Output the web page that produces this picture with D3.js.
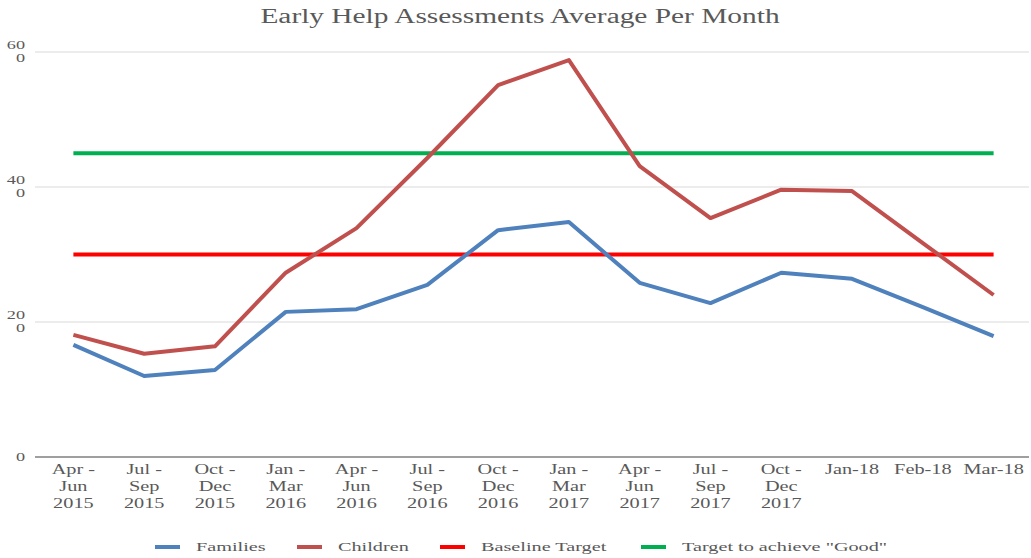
<!DOCTYPE html>
<html><head><meta charset="utf-8">
<script src="https://cdn.jsdelivr.net/npm/d3@7"></script>
<style>body{margin:0;background:#fff}svg{display:block}</style>
</head><body>
<svg id="c" width="1031" height="558"></svg>
<script>
const categories = [
  ["Apr -","Jun","2015"],["Jul -","Sep","2015"],["Oct -","Dec","2015"],["Jan -","Mar","2016"],
  ["Apr -","Jun","2016"],["Jul -","Sep","2016"],["Oct -","Dec","2016"],["Jan -","Mar","2017"],
  ["Apr -","Jun","2017"],["Jul -","Sep","2017"],["Oct -","Dec","2017"],["Jan-18"],["Feb-18"],["Mar-18"]
];
const families = [166,120,129,215,219,255,336,348,258,228,273,264,222,179];
const children = [181,153,164,273,339,443,551,588,431,354,396,394,317,240];
const baselineTarget = [300,300,300,300,300,300,300,300,300,300,300,300,300,300];
const goodTarget = [450,450,450,450,450,450,450,450,450,450,450,450,450,450];
const yTicks = [0,200,400,600];
const title = "Early Help Assessments Average Per Month";
const seriesNames = ["Families","Children","Baseline Target","Target to achieve \"Good\""];
const seriesColors = ["#4f81bd","#c0504d","#ff0000","#00b050"];

const svg = d3.select("#c");
const SX = 1.4;
const font = "'Liberation Serif','Times New Roman',serif";
const txtCol = "#595959";
const keys = categories.map((c,i)=>i);
const x = d3.scalePoint().domain(keys).range([38,1029]).padding(0.5);
const y = d3.scaleLinear().domain([0,600]).range([457,52]);

// grid
svg.append("g").selectAll("line").data(yTicks.filter(t=>t>0)).join("line")
  .attr("x1",35).attr("x2",1029).attr("y1",d=>y(d)).attr("y2",d=>y(d))
  .attr("stroke","#d9d9d9").attr("stroke-width",1);
svg.append("line").attr("x1",35).attr("x2",1029).attr("y1",y(0)).attr("y2",y(0))
  .attr("stroke","#7f7f7f").attr("stroke-width",1.3);

// y labels (wrapped)
const yl = svg.append("g");
yTicks.forEach(t=>{
  const s = String(t);
  const lines = s.length>1 ? [s.slice(0,-1), s.slice(-1)] : [s];
  lines.forEach((ln,k)=>{
    const yy = lines.length>1 ? y(t)-3 + (k*13) : y(t)+4;
    yl.append("text").attr("transform",`translate(25,${yy}) scale(${SX},1)`)
      .attr("text-anchor","end").attr("font-family",font).attr("font-size",13)
      .attr("fill",txtCol).text(ln);
  });
});

// x labels
const xl = svg.append("g");
categories.forEach((c,i)=>{
  c.forEach((ln,k)=>{
    xl.append("text").attr("transform",`translate(${x(i)},${474+k*17}) scale(1.45,1)`)
      .attr("text-anchor","middle").attr("font-family",font).attr("font-size",14)
      .attr("fill",txtCol).text(ln);
  });
});

// lines
const line = d3.line().x((d,i)=>x(i)).y(d=>y(d));
const allSeries = [families, children, baselineTarget, goodTarget];
[2,3,1,0].forEach(si=>{
  svg.append("path").datum(allSeries[si]).attr("d",line)
    .attr("fill","none").attr("stroke",seriesColors[si]).attr("stroke-width",4)
    .attr("stroke-linejoin","round").attr("stroke-linecap","butt");
});

// title
svg.append("text").attr("transform",`translate(520,23) scale(1.47,1)`)
  .attr("text-anchor","middle").attr("font-family",font).attr("font-size",20)
  .attr("fill",txtCol).text(title);

// legend
const legX = [155,297,440,641];
const lg = svg.append("g");
seriesNames.forEach((n,i)=>{
  lg.append("line").attr("x1",legX[i]).attr("x2",legX[i]+25).attr("y1",547).attr("y2",547)
    .attr("stroke",seriesColors[i]).attr("stroke-width",4);
  lg.append("text").attr("transform",`translate(${legX[i]+41},551) scale(1.5,1)`)
    .attr("font-family",font).attr("font-size",13.5).attr("fill",txtCol).text(n);
});
</script>
</body></html>
